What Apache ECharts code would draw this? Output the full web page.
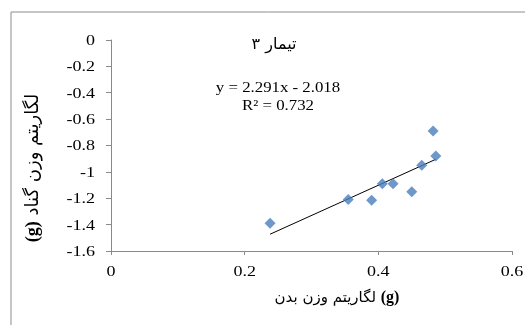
<!DOCTYPE html>
<html>
<head>
<meta charset="utf-8">
<script src="https://cdn.jsdelivr.net/npm/echarts@6/dist/echarts.min.js"></script>
<style>
  html, body { margin: 0; padding: 0; background: #fff; }
  #chart { width: 525px; height: 325px; }
</style>
</head>
<body>
<div id="chart"></div>
<script>
// Log body weight (x) and log gonad weight (y), one point per fish
const logBodyWeight = [0.238, 0.355, 0.390, 0.406, 0.422, 0.450, 0.465, 0.482, 0.486];
const logGonadWeight = [-1.39, -1.21, -1.215, -1.09, -1.09, -1.15, -0.95, -0.69, -0.88];

// Linear trend reported on the chart
const trendSlope = 2.291;
const trendIntercept = -2.018;
const rSquared = 0.732;

// Axis tick values
const xTicks = [0, 0.2, 0.4, 0.6];
const yTicks = [0, -0.2, -0.4, -0.6, -0.8, -1, -1.2, -1.4, -1.6];

const titleText = 'تیمار ۳';
const xTitle = 'لگاریتم وزن بدن ';
const yTitle = ' لگاریتم وزن گناد';

const points = logBodyWeight.map((x, i) => [x, logGonadWeight[i]]);
const xMin = Math.min(...logBodyWeight);
const xMax = Math.max(...logBodyWeight);
const trendLine = [xMin, xMax].map(x => [x, trendSlope * x + trendIntercept]);

const serif = '"Liberation Serif", "Times New Roman", serif';
const persian = '"DejaVu Sans", sans-serif';
const axisGray = '#8a8a8a';
const wide = 1.2; // horizontal stretch of the serif lettering

const chart = echarts.init(document.getElementById('chart'), null, { renderer: 'canvas' });
chart.setOption({
  animation: false,
  backgroundColor: '#ffffff',
  grid: { left: 111, top: 40, right: 13, bottom: 74, containLabel: false },
  xAxis: {
    type: 'value',
    min: xTicks[0],
    max: xTicks[xTicks.length - 1],
    interval: 0.2,
    splitLine: { show: false },
    axisLine: { show: true, onZero: false, lineStyle: { color: axisGray, width: 1 } },
    axisTick: { show: true, inside: false, length: 4, lineStyle: { color: axisGray } },
    axisLabel: { show: false }
  },
  yAxis: {
    type: 'value',
    min: yTicks[yTicks.length - 1],
    max: yTicks[0],
    interval: 0.2,
    splitLine: { show: false },
    axisLine: { show: true, onZero: false, lineStyle: { color: axisGray, width: 1 } },
    axisTick: { show: true, inside: false, length: 5, lineStyle: { color: axisGray } },
    axisLabel: { show: false }
  },
  series: [
    {
      type: 'line',
      data: trendLine,
      symbol: 'none',
      lineStyle: { color: '#000', width: 1 },
      z: 2
    },
    {
      type: 'scatter',
      data: points,
      symbol: 'diamond',
      symbolSize: 11,
      itemStyle: { color: '#4a7ebb' },
      z: 3
    }
  ]
});

// Tick labels placed through the axes' own scales, drawn slightly widened
const tickLabels = [];
xTicks.forEach(v => {
  const [px, py] = chart.convertToPixel({ gridIndex: 0 }, [v, yTicks[yTicks.length - 1]]);
  tickLabels.push({
    type: 'text', x: px, y: py + 21, scaleX: wide,
    style: { text: String(v), font: '15px ' + serif, fill: '#000', align: 'center', verticalAlign: 'middle' }
  });
});
yTicks.forEach(v => {
  const [px, py] = chart.convertToPixel({ gridIndex: 0 }, [xTicks[0], v]);
  tickLabels.push({
    type: 'text', x: px - 16, y: py + 1, scaleX: wide,
    style: { text: String(v), font: '15px ' + serif, fill: '#000', align: 'right', verticalAlign: 'middle' }
  });
});

chart.setOption({
  graphic: [
    {
      type: 'rect',
      shape: { x: 11, y: 12, width: 600, height: 400 },
      style: { fill: 'none', stroke: '#8c8c8c', lineWidth: 1 },
      silent: true, z: -1
    },
    {
      type: 'text', x: 274, y: 45,
      style: { text: titleText, font: '16px ' + persian, fill: '#000', align: 'center', verticalAlign: 'middle' }
    },
    {
      type: 'text', x: 278, y: 88, scaleX: wide,
      style: {
        text: 'y = ' + trendSlope.toFixed(3) + 'x - ' + Math.abs(trendIntercept).toFixed(3),
        font: '14px ' + serif, fill: '#000', align: 'center', verticalAlign: 'middle'
      }
    },
    {
      type: 'text', x: 278, y: 106, scaleX: wide,
      style: {
        text: 'R² = ' + rSquared.toFixed(3),
        font: '14px ' + serif, fill: '#000', align: 'center', verticalAlign: 'middle'
      }
    },
    {
      type: 'text', x: 337, y: 298,
      style: {
        text: '{p|' + xTitle + '}{g|(g)}',
        align: 'center', verticalAlign: 'middle',
        rich: {
          p: { font: '15px ' + persian, fill: '#000' },
          g: { font: 'bold 16px ' + serif, fill: '#000' }
        }
      }
    },
    {
      type: 'text', x: 33, y: 168, rotation: Math.PI / 2,
      style: {
        text: '{g|(g)}{p|' + yTitle + '}',
        align: 'center', verticalAlign: 'middle',
        rich: {
          p: { font: '18px ' + persian, fill: '#000' },
          g: { font: 'bold 18px ' + serif, fill: '#000' }
        }
      }
    }
  ].concat(tickLabels)
});
</script>
</body>
</html>
